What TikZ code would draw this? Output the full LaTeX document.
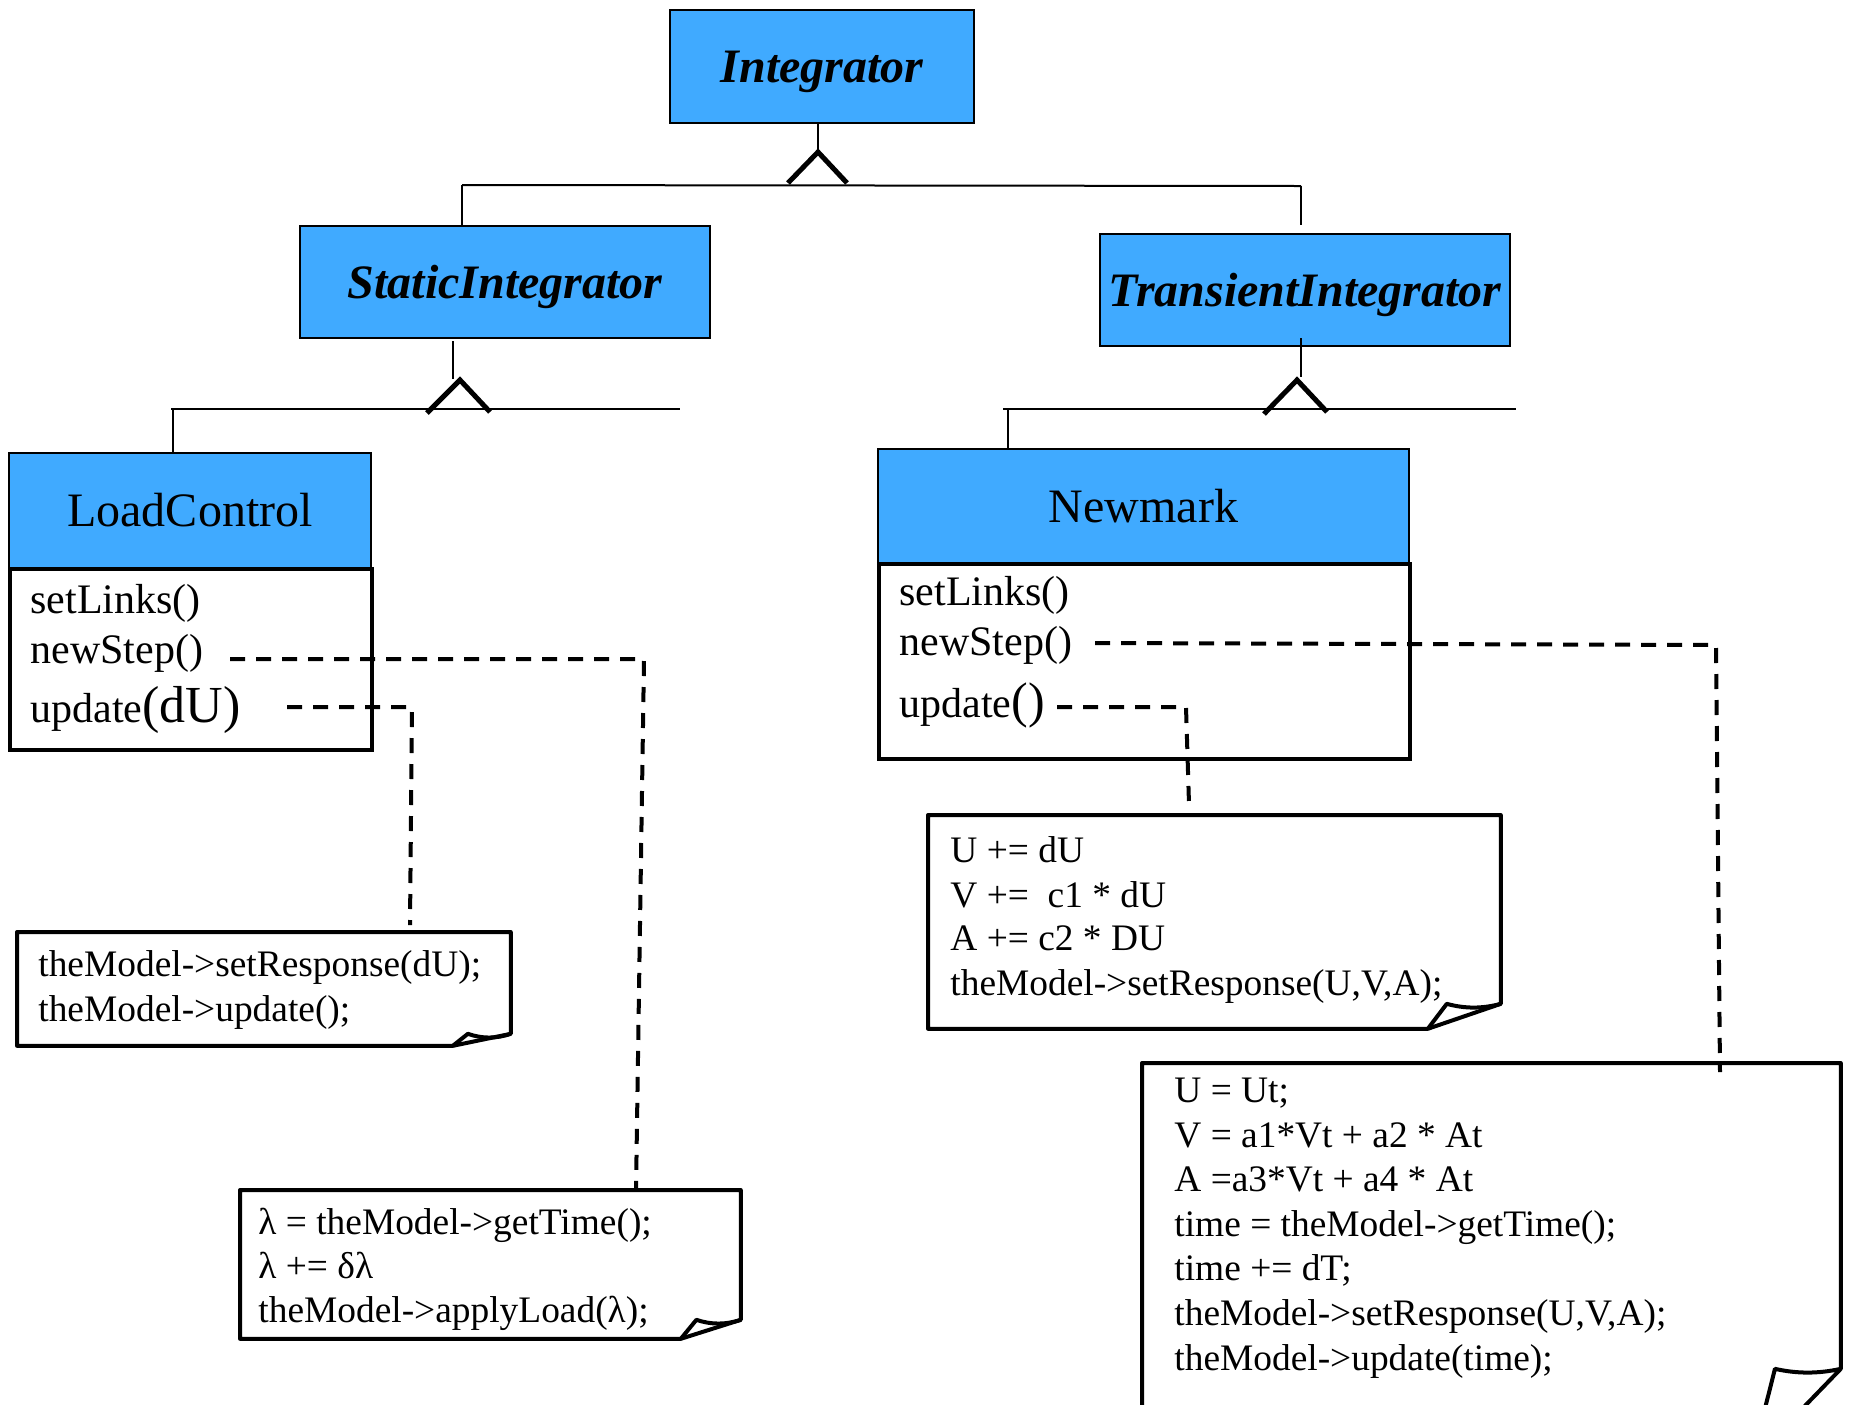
\documentclass[tikz,border=0pt]{standalone}
\usepackage{fontspec}
\setmainfont{Liberation Serif}
\usetikzlibrary{calc}
\definecolor{clsblue}{RGB}{64,170,255}
\newcommand{\abstractfont}{\fontsize{24}{28}\selectfont\bfseries\itshape}
\newcommand{\concretefont}{\fontsize{24}{28}\selectfont}
\newcommand{\methfont}{\fontsize{21}{25}\selectfont}
\newcommand{\notefont}{\fontsize{18.7}{22}\selectfont}
\newcommand{\drawfoldnote}[3]{%
  \coordinate (#1-B) at ($(#1.south east)+(-#2,0)$);
  \coordinate (#1-R) at ($(#1.south east)+(0,-#3)$);
  \coordinate (#1-U) at ($(#1-B)+(0.26*#2,-#3)$);
  \draw[noteline] (#1-B) -- (#1.south west) -- (#1.north west) -- (#1.north east) -- (#1-R) -- cycle;
  \draw[noteline] (#1-B) -- (#1-U) .. controls ($(#1-U)!0.33!(#1-R)+(0,5)$) and ($(#1-U)!0.66!(#1-R)+(0,5)$) .. (#1-R);
}
\begin{document}
\begin{tikzpicture}[x=0.5pt,y=-0.5pt,
  hdr/.style={draw=black, line width=1pt, fill=clsblue, inner sep=0pt, anchor=north west},
  abshdr/.style={hdr, font=\abstractfont, text depth=0pt},
  bodybox/.style={draw=black, line width=2pt, fill=white, inner sep=0pt, anchor=north west},
  gen/.style={line width=1pt},
  tri/.style={line width=2.5pt, line cap=butt, line join=miter},
  dashln/.style={line width=2pt, dash pattern=on 7.5pt off 5.5pt},
  noteline/.style={line width=2pt, line join=round},
  meth/.style={anchor=base west, inner sep=0pt, font=\methfont},
  notetxt/.style={anchor=base west, inner sep=0pt, font=\notefont},
  notebox/.style={anchor=north west, inner sep=0pt, draw=none}]
\useasboundingbox (0,0) rectangle (1853,1404);
\clip (0,0) rectangle (1853,1404);

% ---- classes
\node[abshdr, minimum width=152pt, minimum height=56.5pt] (integrator) at (669,9) {Integrator};
\node[abshdr, minimum width=205pt, minimum height=56pt] (static) at (299,225) {StaticIntegrator};
\node[abshdr, minimum width=205pt, minimum height=56pt] (transient) at (1099,233) {TransientIntegrator};
\node[hdr, minimum width=181pt, minimum height=57.5pt, font=\concretefont] (loadctl) at (8,452) {LoadControl};
\node[bodybox, minimum width=181pt, minimum height=90.5pt] (loadctlbody) at (8,567) {};
\node[hdr, minimum width=265.5pt, minimum height=57pt, font=\concretefont] (newmark) at (877,448) {Newmark};
\node[bodybox, minimum width=265.5pt, minimum height=97.5pt] (newmarkbody) at (877,562) {};

% ---- methods
\node[meth] (lc-set) at (30,613) {setLinks()};
\node[meth] (lc-new) at (30,663) {newStep()};
\node[meth] (lc-upd) at (30,722) {update\fontsize{26}{30}\selectfont(dU)};
\node[meth] (nm-set) at (899,605) {setLinks()};
\node[meth] (nm-new) at (899,655) {newStep()};
\node[meth] (nm-upd) at (899,717) {update\fontsize{25}{30}\selectfont()};

% ---- generalisation: Integrator
\coordinate (apex1) at (818,152);
\coordinate (bar1L) at (462,185);
\coordinate (bar1R) at (1301,186);
\draw[gen] (apex1 |- integrator.south) -- (apex1);
\draw[tri] (apex1) ++(-30,31) -- (apex1) -- ++(29,31);
\draw[gen] (bar1L) -- (bar1R);
\draw[gen] (bar1L) -- (bar1L |- static.north);
\draw[gen] (bar1R) -- ++(0,39);

% ---- generalisation: StaticIntegrator
\coordinate (apex2) at (460,380);
\coordinate (stem2) at (453,341);
\coordinate (bar2L) at (171,409);
\coordinate (bar2R) at (680,409);
\coordinate (drop2) at (173,409);
\draw[gen] (stem2) -- ++(0,38);
\draw[tri] (apex2) ++(-33,33) -- (apex2) -- ++(30,32);
\draw[gen] (bar2L) -- (bar2R);
\draw[gen] (drop2) -- (drop2 |- loadctl.north);

% ---- generalisation: TransientIntegrator
\coordinate (apex3) at (1297,380);
\coordinate (stem3) at (1301,338);
\coordinate (bar3L) at (1003,409);
\coordinate (bar3R) at (1516,409);
\coordinate (drop3) at (1008,409);
\draw[gen] (stem3) -- ++(0,39);
\draw[tri] (apex3) ++(-33,34) -- (apex3) -- ++(30,32);
\draw[gen] (bar3L) -- (bar3R);
\draw[gen] (drop3) -- (drop3 |- newmark.north);

% ---- notes
\node[notebox, minimum width=246.5pt, minimum height=56.5pt] (note1) at (17,932) {};
\drawfoldnote{note1}{58}{12}
\node[notetxt] (n1a) at (38,976) {theModel->setResponse(dU);};
\node[notetxt] (n1b) at (38,1021) {theModel->update();};

\node[notebox, minimum width=250pt, minimum height=74pt] (note2) at (240,1190) {};
\drawfoldnote{note2}{60}{19}
\node[notetxt] (n2a) at (258,1234) {λ = theModel->getTime();};
\node[notetxt] (n2b) at (258,1278) {λ += δλ};
\node[notetxt] (n2c) at (258,1322) {theModel->applyLoad(λ);};

\node[notebox, minimum width=286pt, minimum height=106.5pt] (note3) at (928,815) {};
\drawfoldnote{note3}{73}{25}
\node[notetxt] (n3a) at (950,862) {U += dU};
\node[notetxt] (n3b) at (950,907) {V +=\ \ c1 * dU};
\node[notetxt] (n3c) at (950,950) {A += c2 * DU};
\node[notetxt] (n3d) at (950,995) {theModel->setResponse(U,V,A);};

\node[notebox, minimum width=349pt, minimum height=198.5pt] (note4) at (1142,1063) {};
\drawfoldnote{note4}{89}{92}
\node[notetxt] (n4a) at (1174,1102) {U = Ut;};
\node[notetxt] (n4b) at (1174,1147) {V = a1*Vt + a2 * At};
\node[notetxt] (n4c) at (1174,1191) {A =a3*Vt + a4 * At};
\node[notetxt] (n4d) at (1174,1236) {time = theModel->getTime();};
\node[notetxt] (n4e) at (1174,1280) {time += dT;};
\node[notetxt] (n4f) at (1174,1325) {theModel->setResponse(U,V,A);};
\node[notetxt] (n4g) at (1174,1370) {theModel->update(time);};

% ---- dashed links from methods to notes
\coordinate (lcnewS) at (230,659);
\coordinate (lcnewC) at (644,659);
\coordinate (lcnewE) at (636,1190);
\coordinate (lcupdS) at (287,707);
\coordinate (lcupdC) at (412,707);
\coordinate (lcupdE) at (410,925);
\coordinate (nmnewS) at (1095,643);
\coordinate (nmnewC) at (1716,645);
\coordinate (nmnewE) at (1720,1072);
\coordinate (nmupdS) at (1057,707);
\coordinate (nmupdC) at (1186,707);
\coordinate (nmupdE) at (1189,804);
\draw[dashln] (lcnewS) -- (lcnewC) -- (lcnewE);
\draw[dashln] (lcupdS) -- (lcupdC) -- (lcupdE);
\draw[dashln] (nmnewS) -- (nmnewC) -- (nmnewE);
\draw[dashln] (nmupdS) -- (nmupdC) -- (nmupdE);
\end{tikzpicture}
\end{document}
